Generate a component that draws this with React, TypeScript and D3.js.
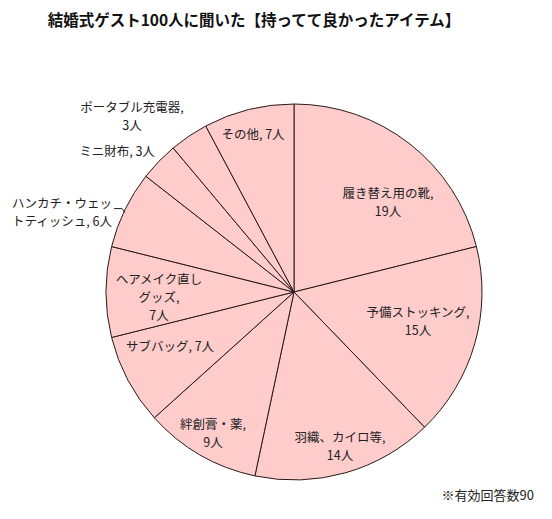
import React from 'react';
import * as d3 from 'd3';

// chart data
const categories = [
  '履き替え用の靴',
  '予備ストッキング',
  '羽織、カイロ等',
  '絆創膏・薬',
  'サブバッグ',
  'ヘアメイク直しグッズ',
  'ハンカチ・ウェットティッシュ',
  'ミニ財布',
  'ポータブル充電器',
  'その他',
];
const counts = [19, 15, 14, 9, 7, 7, 6, 3, 3, 7];
// how each label is broken into lines (as in the original)
const labelLines = [
  ['履き替え用の靴,', '19人'],
  ['予備ストッキング,', '15人'],
  ['羽織、カイロ等,', '14人'],
  ['絆創膏・薬,', '9人'],
  ['サブバッグ, 7人'],
  ['ヘアメイク直し', 'グッズ,', '7人'],
  ['ハンカチ・ウェッ', 'トティッシュ, 6人'],
  ['ミニ財布, 3人'],
  ['ポータブル充電器,', '3人'],
  ['その他, 7人'],
];
const title = '結婚式ゲスト100人に聞いた【持ってて良かったアイテム】';
const note = '※有効回答数90';

// layout
const W = 552;
const H = 519;
const cx = 294;
const cy = 292;
const R = 188;
const lineH = 18;
// label anchor (centre of the first line) for each slice
const labelPos: [number, number][] = [
  [388, 198],
  [418, 317],
  [340, 442],
  [213, 429],
  [170, 351],
  [159, 284],
  [62, 208],
  [117, 156],
  [132, 112],
  [253, 139],
];
const FONT = '"Noto Sans CJK JP", "Noto Sans", sans-serif';

type Datum = { name: string; value: number; i: number };

export default function App() {
  const data: Datum[] = categories.map((name, i) => ({ name, value: counts[i], i }));
  const pie = d3.pie<Datum>().value((d) => d.value).sort(null);
  const arcs = pie(data);
  const arc = d3.arc<d3.PieArcDatum<Datum>>().innerRadius(0).outerRadius(R);

  // leader line for the handkerchief label
  const hk = arcs[6];
  const mid = (hk.startAngle + hk.endAngle) / 2;
  const ex = cx + Math.sin(mid) * R;
  const ey = cy - Math.cos(mid) * R;

  return (
    <svg
      width={W}
      height={H}
      style={{ position: 'absolute', left: 0, top: 0, background: '#fff' }}
      fontFamily={FONT}
    >
      <text x={254} y={26} textAnchor="middle" fontSize={15.5} fontWeight="bold" fill="#111">
        {title}
      </text>
      <g transform={`translate(${cx},${cy})`}>
        {arcs.map((a) => (
          <path key={a.data.name} d={arc(a) || ''} fill="#FFCCCC" stroke="#2a1a1a" strokeWidth={1} />
        ))}
      </g>
      <polyline
        points={`${ex - 11},${ey - 1} ${ex - 3},${ey - 1} ${ex},${ey + 3}`}
        fill="none"
        stroke="#222"
        strokeWidth={1}
      />
      {labelLines.map((lines, i) => (
        <text key={i} textAnchor="middle" fontSize={12.5} fill="#222">
          {lines.map((l, j) => (
            <tspan key={j} x={labelPos[i][0]} y={labelPos[i][1] + j * lineH}>
              {l}
            </tspan>
          ))}
        </text>
      ))}
      <text x={534} y={500} textAnchor="end" fontSize={13} fill="#222">
        {note}
      </text>
    </svg>
  );
}
